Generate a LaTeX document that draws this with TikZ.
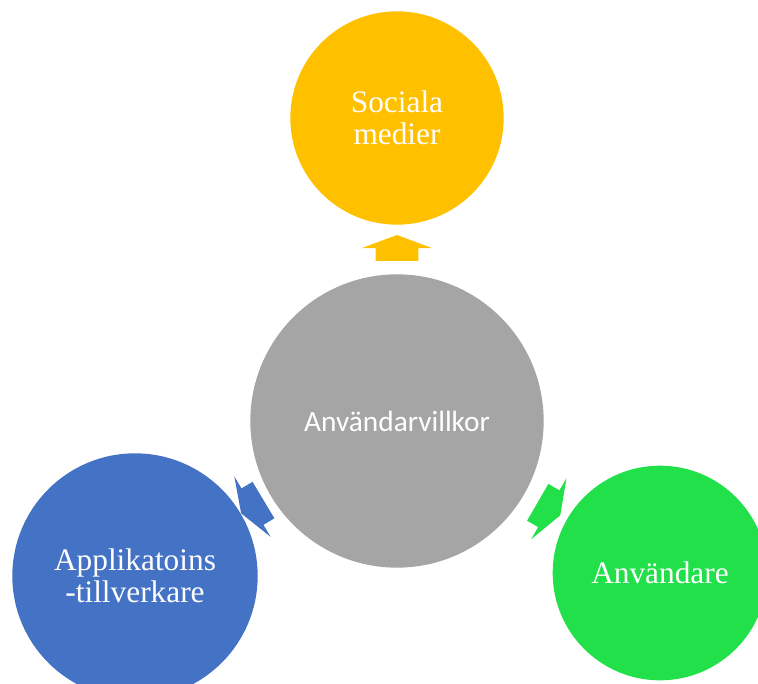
\documentclass[tikz,border=0pt]{standalone}
\usepackage{fontspec}
\setmainfont{Liberation Serif}
\newfontfamily\calibrifont{Carlito}
\usetikzlibrary{shapes.arrows,calc}
\definecolor{socialyellow}{HTML}{FFC000}
\definecolor{coregray}{HTML}{A5A5A5}
\definecolor{appblue}{HTML}{4472C4}
\definecolor{usergreen}{HTML}{22E04A}
\tikzset{
  bubble/.style = {circle, draw=none, text=white, align=center, inner sep=0pt,
    font=\fontsize{23.5}{24}\selectfont},
  pointer/.style = {single arrow, draw=none, inner xsep=0pt, inner ysep=15.75pt,
    minimum height=19.5pt, single arrow head extend=10.5pt, single arrow tip angle=139},
}

\begin{document}
\begin{tikzpicture}[x=0.75pt, y=-0.75pt]
 \useasboundingbox (0,0) rectangle (758,684);
 \clip (0,0) rectangle (758,684);

 \node[bubble, fill=coregray, minimum size=220pt,
   font=\calibrifont\fontsize{22}{24}\selectfont] (core) at (397,421) {Användarvillkor};
 \node[bubble, fill=socialyellow, minimum size=160pt] (social) at (397,118) {Sociala\\medier};
 \node[bubble, fill=appblue, minimum size=184pt] (apps) at (135,576) {Applikatoins\\-tillverkare};
 \node[bubble, fill=usergreen, minimum size=161pt] (users) at (660,573) {Användare};

 \node[pointer, fill=socialyellow, rotate=90] (toSocial) at ($(core.north)!0.45!(social.south)$) {};
 \node[pointer, fill=appblue, rotate=211] (toApps) at ($(core.211)!0.5!(apps.31)$) {};
 \node[pointer, fill=usergreen, rotate=-30] (toUsers) at ($(core.-30)!0.5!(users.150)$) {};
\end{tikzpicture}
\end{document}
